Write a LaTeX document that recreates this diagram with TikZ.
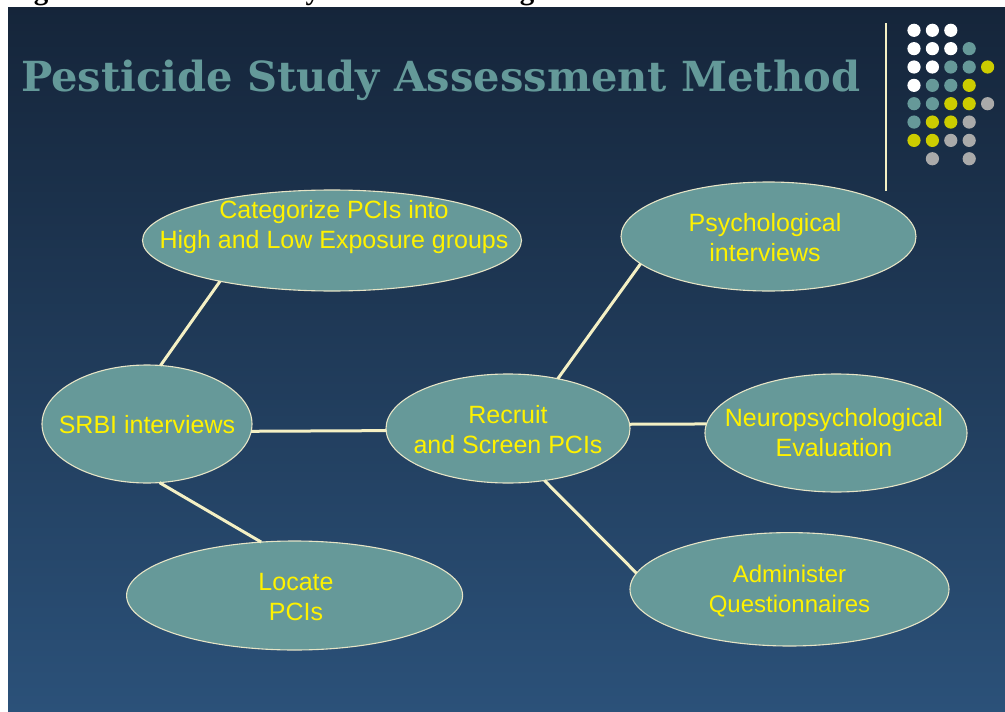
\documentclass[tikz,border=0pt]{standalone}
\usepackage{fontspec}
\usepackage{graphicx}
\newfontfamily\bubblefont{Liberation Sans}
\newfontfamily\headfont{DejaVu Serif}
\newfontfamily\capfont{Liberation Serif}
\usetikzlibrary{shapes.geometric}

\definecolor{slidetop}{HTML}{15253A}
\definecolor{slidebot}{HTML}{2B5179}
\definecolor{bubblefill}{HTML}{669999}
\definecolor{headteal}{HTML}{649999}
\definecolor{cream}{HTML}{F4F0C4}
\definecolor{rimcream}{HTML}{E6E4C6}
\definecolor{dotyellow}{HTML}{CCCC00}
\definecolor{dotgray}{HTML}{AAAAAA}
\definecolor{dotteal}{HTML}{669999}

\begin{document}
\begin{tikzpicture}[x=1pt,y=-1pt,
  bubble/.style={ellipse, draw=rimcream, line width=1.1pt, fill=bubblefill,
                 inner sep=0pt, outer sep=0pt},
  bubbletext/.style={text=yellow, align=center, inner sep=0pt,
                 font=\bubblefont\fontsize{25}{30}\selectfont},
  link/.style={draw=cream, line width=3pt},
  divider/.style={draw=cream, line width=1.3pt},
  dot/.style={circle, inner sep=0pt, minimum size=13.2pt}]

\useasboundingbox (0,0) rectangle (1005,712);
\fill[white] (0,0) rectangle (1005,712);

% caption line, running off the top edge of the page
\begin{scope}
  \clip (0,0) rectangle (1005,7);
  \node[anchor=base west, inner sep=0pt,
        font=\capfont\bfseries\fontsize{29}{34}\selectfont] (caption)
        at (8,-0.5) {Figure 1: Pesticide Study Assessment Diagram};
\end{scope}

% slide background
\shade[top color=slidetop, bottom color=slidebot] (8,7) rectangle (1005,712);

% heading
\node[anchor=base west, inner sep=0pt, text=headteal] (heading) at (21,91.7)
  {\resizebox{839pt}{31.5pt}{\headfont\bfseries Pesticide Study Assessment Method}};

% divider and dot pattern in the corner
\coordinate (divtop) at (886,23);
\coordinate (divbot) at (886,191);
\draw[divider] (divtop) -- (divbot);

\foreach \c/\r/\col in {
  0/0/white, 1/0/white, 2/0/white,
  0/1/white, 1/1/white, 2/1/white, 3/1/dotteal,
  0/2/white, 1/2/white, 2/2/dotteal, 3/2/dotteal, 4/2/dotyellow,
  0/3/white, 1/3/dotteal, 2/3/dotteal, 3/3/dotyellow,
  0/4/dotteal, 1/4/dotteal, 2/4/dotyellow, 3/4/dotyellow, 4/4/dotgray,
  0/5/dotteal, 1/5/dotyellow, 2/5/dotyellow, 3/5/dotgray,
  0/6/dotyellow, 1/6/dotyellow, 2/6/dotgray, 3/6/dotgray,
  1/7/dotgray, 3/7/dotgray}
  \node[dot, fill=\col] (dot-\c-\r) at ({914+18.4*\c},{30.3+18.35*\r}) {};

% bubbles
\node[bubble, minimum width=379pt, minimum height=101pt] (cat)    at (332,240.5) {};
\node[bubble, minimum width=295pt, minimum height=109pt] (psych)  at (768.5,236.5) {};
\node[bubble, minimum width=262pt, minimum height=118pt] (neuro)  at (836,433) {};
\node[bubble, minimum width=210pt, minimum height=118pt] (srbi)   at (147,424) {};
\node[bubble, minimum width=244pt, minimum height=109pt] (recruit) at (508,428.5) {};
\node[bubble, minimum width=336pt, minimum height=109pt] (locate) at (294.6,595.5) {};
\node[bubble, minimum width=319pt, minimum height=113.4pt] (admin) at (789.5,589.3) {};

% bubble texts
\node[bubbletext] (catText)     at (334,227)   {Categorize PCIs into\\High and Low Exposure groups};
\node[bubbletext] (psychText)   at (765,237.7) {Psychological\\interviews};
\node[bubbletext] (neuroText)   at (834,433)   {Neuropsychological\\Evaluation};
\node[bubbletext] (srbiText)    at (147,425)   {SRBI interviews};
\node[bubbletext] (recruitText) at (508,430)   {Recruit\\and Screen PCIs};
\node[bubbletext] (locateText)  at (296,596.7) {Locate\\PCIs};
\node[bubbletext, font=\bubblefont\fontsize{24}{30}\selectfont] (adminText) at (789.5,591) {Administer\\Questionnaires};

% connectors
\draw[link] (cat.200.6)   -- (srbi.77.4);
\draw[link] (srbi.282.6)  -- (locate.122.4);
\draw[link] (srbi.-4.7)   -- (recruit.181.9);
\draw[link] (recruit.45.9) -- (psych.192.8);
\draw[link] (recruit.2)   -- (neuro.176.2);
\draw[link] (recruit.-55.4) -- (admin.174.2);

\end{tikzpicture}
\end{document}
